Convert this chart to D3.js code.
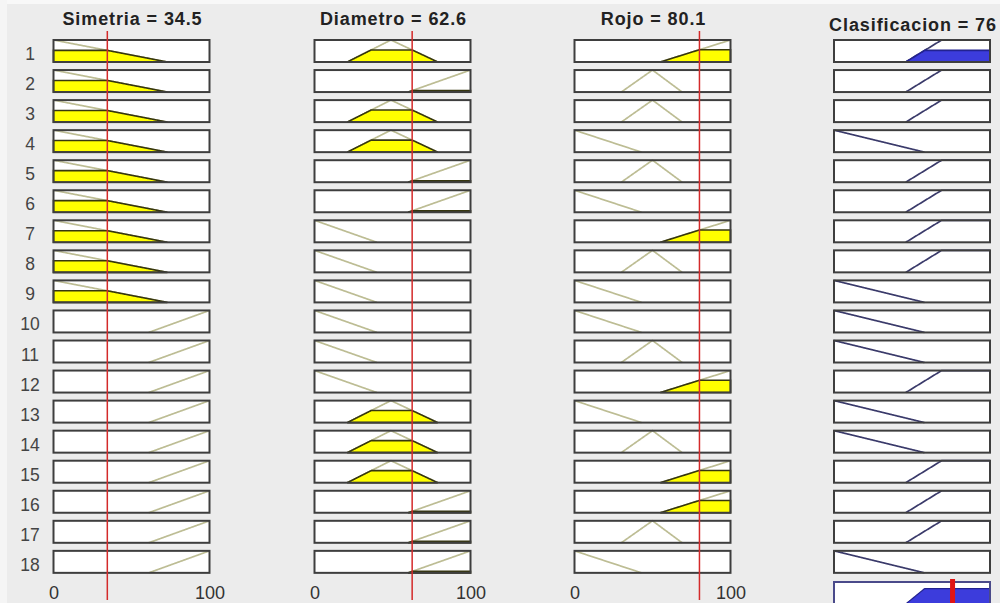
<!DOCTYPE html>
<html lang="es">
<head>
  <meta charset="UTF-8">
  <title>Rule viewer</title>
  <style>
    body { margin: 0; background: #ececec; }
    svg { display: block; font-family: "Liberation Sans", Arial, sans-serif; }
  </style>
</head>
<body>
  <svg id="chart" width="1000" height="603"></svg>
  <script src="https://d3js.org/d3.v7.min.js"></script>
  <script>
    // input / output values shown in the titles
    var inputNames = ["Simetria", "Diametro", "Rojo"];
    var inputValues = [34.5, 62.6, 80.1];
    var outputName = "Clasificacion";
    var outputValue = 76;

    // membership functions, trapezoid params [a, b, c, d]
    var simetriaMF = { low: [0, 0, 0, 73], high: [61, 100, 100, 100] };
    var diametroMF = { low: [0, 0, 0, 40], medium: [21, 49, 49, 79], high: [60, 100, 100, 100] };
    var rojoMF = { low: [0, 0, 0, 43], medium: [30, 50, 50, 69], high: [55, 100, 100, 100] };
    var clasifMF = { low: [0, 0, 0, 58], high: [46, 69, 100, 100] };

    // rule table, one entry per rule
    var ruleSimetria = ["low","low","low","low","low","low","low","low","low",
                        "high","high","high","high","high","high","high","high","high"];
    var ruleDiametro = ["medium","high","medium","medium","high","high","low","low","low",
                        "low","low","low","medium","medium","medium","high","high","high"];
    var ruleRojo = ["high","medium","medium","low","medium","low","high","medium","low",
                    "low","medium","high","low","medium","high","high","medium","low"];
    var ruleClasif = ["high","high","high","low","high","high","high","high","low",
                      "low","low","high","low","low","high","high","high","low"];

    var xTicks = [0, 100];

    var svg = d3.select("#chart");
    var inputMFs = [simetriaMF, diametroMF, rojoMF];
    var inputRules = [ruleSimetria, ruleDiametro, ruleRojo];

    var colX = [53.5, 314.5, 574.5, 834];
    var boxW = 156, boxH = 22, rowTop = 40, rowStep = 30.05;

    function trap(p, x) {
      var a = p[0], b = p[1], c = p[2], d = p[3];
      if (x < a || x > d) return 0;
      if (x < b) return (x - a) / (b - a);
      if (x <= c) return 1;
      return d > c ? (d - x) / (d - c) : 1;
    }
    function samples(p) {
      var xs = d3.range(p[0], p[3], 0.25);
      xs.push(p[3]);
      return xs;
    }

    // background strips
    svg.append("rect").attr("width", 1000).attr("height", 603).attr("fill", "#ececec");
    svg.append("rect").attr("width", 1000).attr("height", 4).attr("fill", "#f8f8f8");
    svg.append("rect").attr("width", 7).attr("height", 603).attr("fill", "#f5f5f5");

    var xScales = colX.map(function(x0) {
      return d3.scaleLinear().domain([0, 100]).range([x0, x0 + boxW]);
    });

    // firing strengths
    var strengths = d3.range(18).map(function(i) {
      return d3.min(inputMFs.map(function(mf, k) {
        return trap(mf[inputRules[k][i]], inputValues[k]);
      }));
    });

    function drawCell(col, i, params, level, lineCol, fillCol, edgeCol) {
      var x = xScales[col];
      var top = rowTop + i * rowStep;
      var y = d3.scaleLinear().domain([0, 1]).range([top + boxH, top]);
      var g = svg.append("g");
      g.append("rect").attr("x", x(0)).attr("y", top).attr("width", boxW).attr("height", boxH)
        .attr("fill", "#ffffff");
      var pts = samples(params);
      g.append("path")
        .attr("d", d3.line().x(function(d) { return x(d); }).y(function(d) { return y(trap(params, d)); })(pts))
        .attr("fill", "none").attr("stroke", lineCol).attr("stroke-width", 1.7);
      if (level > 0) {
        g.append("path")
          .attr("d", d3.area()
            .x(function(d) { return x(d); })
            .y0(y(0))
            .y1(function(d) { return y(Math.min(level, trap(params, d))); })(pts) + "Z")
          .attr("fill", fillCol).attr("stroke", edgeCol).attr("stroke-width", 1.6);
      }
      g.append("rect").attr("x", x(0)).attr("y", top).attr("width", boxW).attr("height", boxH)
        .attr("fill", "none").attr("stroke", "#3e3e3e").attr("stroke-width", 2);
    }

    for (var i = 0; i < 18; i++) {
      inputMFs.forEach(function(mf, k) {
        var p = mf[inputRules[k][i]];
        drawCell(k, i, p, trap(p, inputValues[k]), "#bdbd94", "#ffff00", "#36360f");
      });
      drawCell(3, i, clasifMF[ruleClasif[i]], strengths[i], "#3a3a6a", "#3c3cdc", "#222290");
    }

    // row numbers
    svg.selectAll(".rowlab").data(d3.range(1, 19)).enter().append("text")
      .attr("class", "rowlab")
      .attr("x", 30).attr("y", function(d) { return rowTop + (d - 1) * rowStep + 20; })
      .attr("text-anchor", "middle").attr("font-size", 17.5).attr("fill", "#444")
      .text(function(d) { return d; });

    // titles
    var titles = inputNames.map(function(n, k) { return n + " = " + inputValues[k]; });
    titles.push(outputName + " = " + outputValue);
    svg.selectAll(".title").data(titles).enter().append("text")
      .attr("x", function(d, k) { return colX[k] + boxW / 2 + 1; })
      .attr("y", function(d, k) { return k === 3 ? 31 : 25; })
      .attr("text-anchor", "middle").attr("font-size", 18).attr("font-weight", "bold")
      .attr("letter-spacing", 0.9)
      .attr("fill", "#222").text(function(d) { return d; });

    // x axes under the input columns
    [0, 1, 2].forEach(function(k) {
      svg.append("g")
        .attr("transform", "translate(0,599)")
        .call(d3.axisBottom(xScales[k]).tickValues(xTicks).tickSize(0).tickPadding(0))
        .call(function(a) {
          a.select(".domain").remove();
          a.selectAll("text").attr("font-size", 18).attr("fill", "#333")
            .attr("font-family", "Liberation Sans, Arial, sans-serif").attr("dy", 0);
        });
    });

    // red input lines
    svg.selectAll(".inline").data(inputValues).enter().append("line")
      .attr("x1", function(d, k) { return xScales[k](d); })
      .attr("x2", function(d, k) { return xScales[k](d); })
      .attr("y1", 31).attr("y2", 600)
      .attr("stroke", "#d42a2a").attr("stroke-width", 1.5);

    // aggregated output
    var aggTop = 582;
    var xo = xScales[3];
    var ya = d3.scaleLinear().domain([0, 0.75]).range([aggTop + boxH, aggTop]);
    var aggXs = d3.range(0, 100.01, 0.25);
    var agg = aggXs.map(function(x) {
      return d3.max(d3.range(18), function(i) {
        return Math.min(strengths[i], trap(clasifMF[ruleClasif[i]], x));
      });
    });
    svg.append("rect").attr("x", xo(0)).attr("y", aggTop).attr("width", boxW).attr("height", boxH)
      .attr("fill", "#ffffff");
    svg.append("path")
      .attr("d", d3.area().x(function(d, j) { return xo(aggXs[j]); })
        .y0(ya(0)).y1(function(d) { return ya(d); })(agg))
      .attr("fill", "#3c3cdc").attr("stroke", "#222290").attr("stroke-width", 1.2);
    svg.append("rect").attr("x", xo(0)).attr("y", aggTop).attr("width", boxW).attr("height", boxH)
      .attr("fill", "none").attr("stroke", "#4a4a8a").attr("stroke-width", 2);
    svg.append("line")
      .attr("x1", xo(outputValue)).attr("x2", xo(outputValue))
      .attr("y1", aggTop - 3).attr("y2", aggTop + boxH + 2)
      .attr("stroke", "#e01414").attr("stroke-width", 5);
  </script>
</body>
</html>
